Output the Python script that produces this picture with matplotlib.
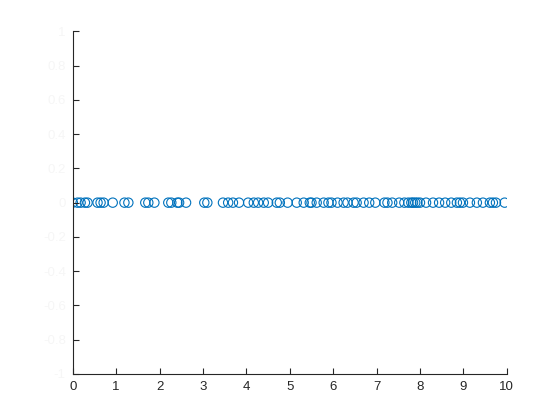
import matplotlib.pyplot as plt

# x values, all points sit on y = 0
xs = [0.0, 0.11, 0.18, 0.28, 0.34, 0.57, 0.64, 0.71, 0.92, 1.19, 1.28,
      1.67, 1.74, 1.88, 2.20, 2.27, 2.41, 2.45, 2.61, 3.03, 3.10, 3.46,
      3.58, 3.69, 3.83, 4.04, 4.17, 4.27, 4.40, 4.50, 4.70, 4.77, 4.95,
      5.16, 5.32, 5.46, 5.50, 5.62, 5.78, 5.89, 5.96, 6.10, 6.24, 6.33,
      6.47, 6.54, 6.70, 6.83, 6.97, 7.18, 7.25, 7.36, 7.52, 7.64, 7.73,
      7.80, 7.84, 7.89, 7.94, 8.00, 8.14, 8.30, 8.44, 8.58, 8.72, 8.85,
      8.92, 8.99, 9.15, 9.31, 9.45, 9.61, 9.68, 9.75, 9.95]
ys = [0] * len(xs)

xticks = list(range(0, 11))
yticks = [-1, -0.8, -0.6, -0.4, -0.2, 0, 0.2, 0.4, 0.6, 0.8, 1]

plt.rcParams['font.family'] = ['Liberation Sans', 'DejaVu Sans']

fig = plt.figure(figsize=(5.6, 4.2), dpi=100)
ax = fig.add_axes([0.13, 0.11, 0.775, 0.815])

ax.scatter(xs, ys, s=45, facecolors='none', edgecolors='#0072BD', linewidths=0.8)

ax.set_xlim(0, 10)
ax.set_ylim(-1, 1)
ax.set_xticks(xticks)
ax.set_yticks(yticks)
ax.set_yticklabels([f'{v:g}' for v in yticks])

ax.spines['top'].set_visible(False)
ax.spines['right'].set_visible(False)
for s in ['left', 'bottom']:
    ax.spines[s].set_color('#262626')
    ax.spines[s].set_linewidth(0.8)

ax.tick_params(direction='in', length=4, width=0.8, colors='#262626',
               labelsize=9.5, pad=5)
# y labels are barely visible in the original
ax.tick_params(axis='y', labelcolor='#f6f6f6')

fig.savefig('out.png', dpi=100)
